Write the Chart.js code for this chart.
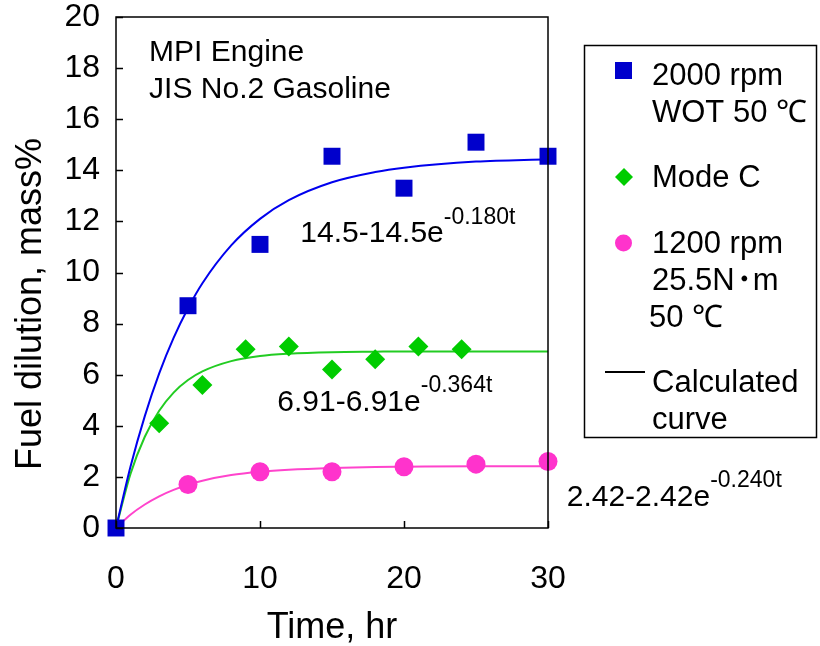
<!DOCTYPE html>
<html>
<head>
<meta charset="utf-8">
<script src="https://cdn.jsdelivr.net/npm/chart.js@4"></script>
<style>
  body { margin: 0; background: #fff; }
  #wrap { width: 820px; height: 646px; }
</style>
</head>
<body>
<div id="wrap"><canvas id="grafico" width="820" height="646"></canvas></div>
<script>
// measured points (hr, mass%)
const tempoWot = [0, 5, 10, 15, 20, 25, 30];
const diluicaoWot = [0, 8.7, 11.1, 14.55, 13.3, 15.1, 14.55];

const tempoModeC = [3, 6, 9, 12, 15, 18, 21, 24];
const diluicaoModeC = [4.1, 5.6, 7.0, 7.1, 6.2, 6.6, 7.1, 7.0];

const tempo1200 = [5, 10, 15, 20, 25, 30];
const diluicao1200 = [1.7, 2.2, 2.2, 2.4, 2.5, 2.6];

// calculated curves
const tempoCurva = [0, 1, 2, 3, 4, 5, 6, 8, 10, 12, 15, 18, 20, 25, 30];
const curvaWot = [0, 2.39, 4.38, 6.05, 7.44, 8.6, 9.58, 11.06, 12.1, 12.83, 13.53, 13.93, 14.1, 14.34, 14.43];
const curvaModeC = [0, 2.11, 3.57, 4.59, 5.3, 5.79, 6.13, 6.53, 6.73, 6.82, 6.88, 6.9, 6.91, 6.91, 6.91];
const curva1200 = [0, 0.52, 0.92, 1.24, 1.49, 1.69, 1.85, 2.07, 2.2, 2.28, 2.35, 2.39, 2.4, 2.42, 2.42];

const xTicks = [0, 10, 20, 30];
const yTicks = [0, 2, 4, 6, 8, 10, 12, 14, 16, 18, 20];

const fonte = '"Liberation Sans", Arial, sans-serif';

function pares(xs, ys) {
  return xs.map((x, i) => ({ x: x, y: ys[i] }));
}

// frame, inward ticks, y title, text notes and the side legend
const extras = {
  id: 'extras',
  afterDraw(chart) {
    const ctx = chart.ctx;
    const a = chart.chartArea;
    const sx = chart.scales.x;
    const sy = chart.scales.y;
    ctx.save();
    ctx.strokeStyle = '#000';
    ctx.lineWidth = 1.5;
    ctx.strokeRect(a.left, a.top, a.right - a.left, a.bottom - a.top);
    ctx.beginPath();
    xTicks.forEach(v => {
      const px = Math.round(sx.getPixelForValue(v)) + 0.5;
      ctx.moveTo(px, a.bottom);
      ctx.lineTo(px, a.bottom - 7);
    });
    yTicks.forEach(v => {
      const py = Math.round(sy.getPixelForValue(v)) + 0.5;
      ctx.moveTo(a.left, py);
      ctx.lineTo(a.left + 7, py);
    });
    ctx.stroke();

    ctx.fillStyle = '#000';
    ctx.textBaseline = 'middle';

    // y axis title
    ctx.save();
    ctx.translate(31, 304);
    ctx.rotate(-Math.PI / 2);
    ctx.textAlign = 'center';
    ctx.font = '36px ' + fonte;
    ctx.fillText('Fuel dilution, mass%', 0, 0);
    ctx.restore();

    ctx.textAlign = 'left';
    ctx.font = '30px ' + fonte;
    ctx.fillText('MPI Engine', sx.getPixelForValue(2.3), sy.getPixelForValue(18.6));
    ctx.fillText('JIS No.2 Gasoline', sx.getPixelForValue(2.3), sy.getPixelForValue(17.15));

    function equacao(base, expoente, t, v) {
      const x = sx.getPixelForValue(t);
      const y = sy.getPixelForValue(v);
      ctx.font = '30px ' + fonte;
      ctx.fillText(base, x, y);
      const w = ctx.measureText(base).width;
      ctx.font = '23px ' + fonte;
      ctx.fillText(expoente, x + w, y - 17);
    }
    equacao('14.5-14.5e', '-0.180t', 12.8, 11.5);
    equacao('6.91-6.91e', '-0.364t', 11.2, 4.9);
    equacao('2.42-2.42e', '-0.240t', 31.3, 1.2);

    // legend box
    ctx.lineWidth = 1.5;
    ctx.strokeRect(584.5, 45.5, 232, 392);
    ctx.font = '31px ' + fonte;
    const tx = 652;
    ctx.fillStyle = '#0000cc';
    ctx.fillRect(615, 62, 17, 17);
    ctx.fillStyle = '#00cc00';
    ctx.beginPath();
    ctx.moveTo(624, 168); ctx.lineTo(633, 177); ctx.lineTo(624, 186); ctx.lineTo(615, 177);
    ctx.closePath(); ctx.fill();
    ctx.fillStyle = '#ff33cc';
    ctx.beginPath(); ctx.arc(623.5, 243, 8.5, 0, Math.PI * 2); ctx.fill();
    ctx.strokeStyle = '#000';
    ctx.lineWidth = 2;
    ctx.beginPath(); ctx.moveTo(605, 372); ctx.lineTo(645, 372); ctx.stroke();
    ctx.fillStyle = '#000';
    ctx.fillText('2000 rpm', tx, 76);
    ctx.fillText('WOT 50 \u2103', tx, 113);
    ctx.fillText('Mode C', tx, 178);
    ctx.fillText('1200 rpm', tx, 244);
    // 25.5N・m with a tight middle dot
    ctx.fillText('25.5N', tx, 281);
    const wN = ctx.measureText('25.5N').width;
    ctx.textAlign = 'center';
    ctx.font = 'bold 30px ' + fonte;
    ctx.fillText('\u30FB', tx + wN + 9, 281);
    ctx.textAlign = 'left';
    ctx.font = '31px ' + fonte;
    ctx.fillText('m', tx + wN + 18, 281);
    ctx.fillText('50 \u2103', 649, 318);
    ctx.fillText('Calculated', tx, 383);
    ctx.fillText('curve', tx, 420);
    ctx.restore();
  }
};

function curva(dados, cor) {
  return {
    type: 'line',
    data: pares(tempoCurva, dados),
    borderColor: cor,
    borderWidth: 2,
    pointRadius: 0,
    cubicInterpolationMode: 'monotone',
    fill: false,
    order: 2
  };
}

new Chart(document.getElementById('grafico').getContext('2d'), {
  type: 'scatter',
  data: {
    datasets: [
      curva(curvaWot, '#0000ee'),
      curva(curvaModeC, '#22cc22'),
      curva(curva1200, '#ff44cc'),
      {
        data: pares(tempoWot, diluicaoWot),
        pointStyle: 'rect',
        pointRadius: 12,
        backgroundColor: '#0000cc',
        borderWidth: 0,
        clip: false,
        order: 1
      },
      {
        data: pares(tempoModeC, diluicaoModeC),
        pointStyle: 'rectRot',
        pointRadius: 10,
        backgroundColor: '#00cc00',
        borderWidth: 0,
        clip: false,
        order: 1
      },
      {
        data: pares(tempo1200, diluicao1200),
        pointStyle: 'circle',
        pointRadius: 9.5,
        backgroundColor: '#ff33cc',
        borderWidth: 0,
        clip: false,
        order: 1
      }
    ]
  },
  options: {
    responsive: false,
    animation: false,
    layout: { padding: { left: 0, right: 272, top: 17, bottom: 0 } },
    plugins: {
      legend: { display: false },
      tooltip: { enabled: false }
    },
    scales: {
      x: {
        type: 'linear',
        min: 0, max: 30,
        afterBuildTicks: s => { s.ticks = xTicks.map(v => ({ value: v })); },
        afterFit: s => { s.height = 118; s.paddingLeft = 0; s.paddingRight = 0; },
        grid: { display: false, drawTicks: false },
        border: { display: false },
        ticks: { color: '#000', font: { family: fonte, size: 32 }, padding: 32 },
        title: { display: true, text: 'Time, hr', color: '#000', font: { family: fonte, size: 36 }, padding: { top: 0, bottom: -4 } }
      },
      y: {
        min: 0, max: 20,
        afterBuildTicks: s => { s.ticks = yTicks.map(v => ({ value: v })); },
        afterFit: s => { s.width = 116; s.paddingTop = 0; s.paddingBottom = 0; },
        grid: { display: false, drawTicks: false },
        border: { display: false },
        ticks: { color: '#000', font: { family: fonte, size: 32 }, padding: 16 }
      }
    }
  },
  plugins: [extras]
});
</script>
</body>
</html>
